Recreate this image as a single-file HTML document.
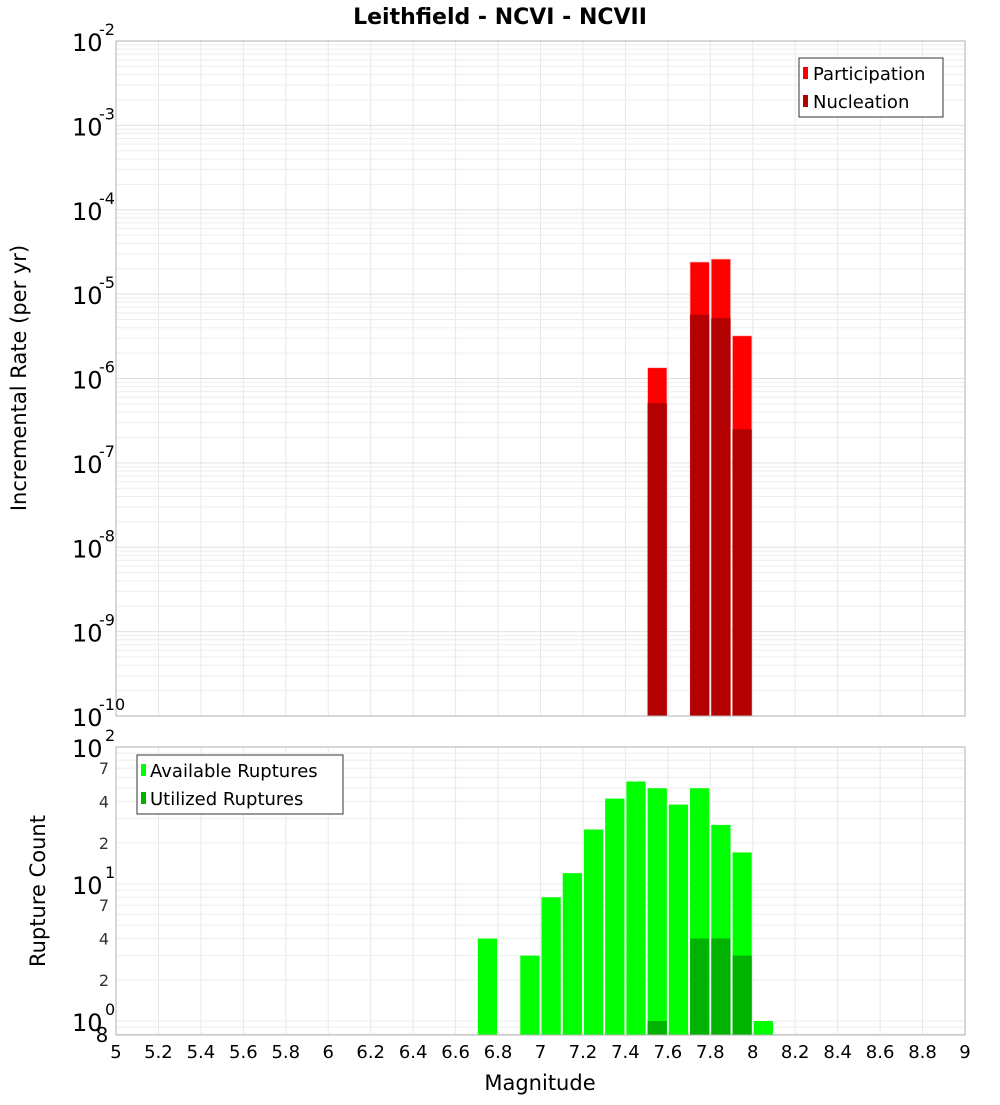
<!DOCTYPE html>
<html><head><meta charset="utf-8"><style>
body{margin:0;background:#fff;font-family:"Liberation Sans","DejaVu Sans",sans-serif}
svg text{font-family:"DejaVu Sans","Liberation Sans",sans-serif}
</style></head><body>
<svg id="c" width="1000" height="1100" xmlns="http://www.w3.org/2000/svg">
<text x="500" y="24" text-anchor="middle" font-size="22" font-weight="bold">Leithfield - NCVI - NCVII</text>
<g id="top"></g><g id="bot"></g>
</svg>
<script>
const topBins=[7.55,7.75,7.85,7.95];
const participation=[1.34e-6,2.4e-5,2.6e-5,3.2e-6];
const nucleation=[5.1e-7,5.7e-6,5.2e-6,2.5e-7];
const botBins=[6.75,6.95,7.05,7.15,7.25,7.35,7.45,7.55,7.65,7.75,7.85,7.95,8.05];
const available=[4,3,8,12,25,42,56,50,38,50,27,17,1];
const utilized=[0,0,0,0,0,0,0,1,0,4,4,3,0];
const xTicks=[5,5.2,5.4,5.6,5.8,6,6.2,6.4,6.6,6.8,7,7.2,7.4,7.6,7.8,8,8.2,8.4,8.6,8.8,9];

const NS="http://www.w3.org/2000/svg";
const svg=document.getElementById('c');
function mk(tag,at,parent){const e=document.createElementNS(NS,tag);for(const k in at)e.setAttribute(k,at[k]);(parent||svg).appendChild(e);return e;}
const X0=116,X1=965;
const xs=m=>X0+(m-5)/4*(X1-X0);
const T0=41,T1=716, yT=v=>T0+(-2-Math.log10(v))*(T1-T0)/8;
const B0=747,B1=1035, yB=v=>B0+(2-Math.log10(v))*137;
const gT=document.getElementById('top'),gB=document.getElementById('bot');

// grids
for(const t of xTicks){
  const l1=mk('line',{x1:xs(t),x2:xs(t),y1:T0,y2:T1,stroke:'#e8e8e8'},gT);
  
  
  const l2=mk('line',{x1:xs(t),x2:xs(t),y1:B0,y2:B1,stroke:'#e8e8e8'},gB);
  
  
}
for(let d=-10;d<-2;d++)for(let k=1;k<10;k++){
  const y=yT(k*Math.pow(10,d));
  const l=mk('line',{x1:X0,x2:X1,y1:y,y2:y,stroke:k==1?'#e0e0e0':'#eeeeee'},gT);
  
  
}
for(let d=-1;d<2;d++)for(let k=1;k<10;k++){
  const y=yB(k*Math.pow(10,d));
  if(y<B0||y>B1)continue;
  const l=mk('line',{x1:X0,x2:X1,y1:y,y2:y,stroke:'#eeeeee'},gB);
  
  
}
// bars
const bw=0.1*(X1-X0)/4;
topBins.forEach((m,i)=>{
  const x=xs(m)-bw/2+1;
  const p=mk('rect',{x:x,y:yT(participation[i]),width:bw-2,height:T1-yT(participation[i]),fill:'#ff0000',stroke:'#ffb0b0','stroke-width':0.6},gT);
  
  
  const n=mk('rect',{x:x,y:yT(nucleation[i]),width:bw-2,height:T1-yT(nucleation[i]),fill:'#b30000'},gT);
  
  
});
botBins.forEach((m,i)=>{
  const x=xs(m)-bw/2+1;
  const a=mk('rect',{x:x,y:yB(available[i]),width:bw-2,height:B1-yB(available[i]),fill:'#00ff00'},gB);
  
  
  if(utilized[i]>0){
    const u=mk('rect',{x:x,y:yB(utilized[i]),width:bw-2,height:B1-yB(utilized[i]),fill:'#00b300'},gB);
    
    
  }
});
// frames
const f1=mk('rect',{x:X0,y:T0,width:X1-X0,height:T1-T0,fill:'none',stroke:'#b0b0b0'},gT);


const f2=mk('rect',{x:X0,y:B0,width:X1-X0,height:B1-B0,fill:'none',stroke:'#b0b0b0'},gB);


// y ticks top
for(let d=-10;d<=-2;d++){
  const y=yT(Math.pow(10,d));
  const t=mk('text',{x:72,y:y+10,'font-size':24},gT);
  
  
  t.textContent='10';
  const s=mk('text',{x:99,y:y-6,'font-size':16},gT);
  
  
  s.textContent=String(d);
}
// y ticks bottom
for(let d=0;d<=2;d++){
  const y=yB(Math.pow(10,d));
  const t=mk('text',{x:72,y:y+10,'font-size':24},gB);
  
  
  t.textContent='10';
  const s=mk('text',{x:105,y:y-6,'font-size':16},gB);
  
  
  s.textContent=String(d);
}
[[70,'7'],[40,'4'],[20,'2'],[7,'7'],[4,'4'],[2,'2']].forEach(([v,l])=>{
  const t=mk('text',{x:104,y:yB(v)+6,'font-size':16,'text-anchor':'middle',fill:'#333'},gB);
  
  
  t.textContent=l;
});
const e8=mk('text',{x:102,y:1042,'font-size':20,'text-anchor':'middle'},gB);


e8.textContent='8';
// x ticks
xTicks.forEach(t=>{
  const e=mk('text',{x:xs(t),y:1058,'font-size':18,'text-anchor':'middle'});
  
  
  e.textContent=String(t);
});
</script>
<svg style="position:absolute;left:0;top:0" width="1000" height="1100">
<text x="540" y="1090" text-anchor="middle" font-size="21">Magnitude</text>
<text transform="translate(26,378) rotate(-90)" text-anchor="middle" font-size="21">Incremental Rate (per yr)</text>
<text transform="translate(45,891) rotate(-90)" text-anchor="middle" font-size="21">Rupture Count</text>
<g>
<rect x="799" y="58" width="144" height="59" fill="#fff" stroke="#333"/>
<rect x="803" y="67" width="5" height="12" fill="#ff0000"/>
<text x="813" y="80" font-size="18">Participation</text>
<rect x="803" y="95" width="5" height="12" fill="#b30000"/>
<text x="813" y="108" font-size="18">Nucleation</text>
</g>
<g>
<rect x="137" y="755" width="206" height="59" fill="#fff" stroke="#333"/>
<rect x="141" y="764" width="5" height="12" fill="#00ff00"/>
<text x="150" y="777" font-size="18">Available Ruptures</text>
<rect x="141" y="792" width="5" height="12" fill="#00b300"/>
<text x="150" y="805" font-size="18">Utilized Ruptures</text>
</g>
</svg>
</body></html>
